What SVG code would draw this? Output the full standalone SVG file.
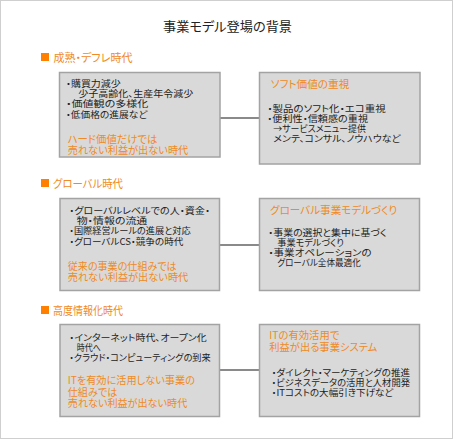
<svg xmlns="http://www.w3.org/2000/svg" width="455" height="440" viewBox="0 0 455 440">
<style>
text{font-family:"Noto Sans CJK JP","Noto Sans",sans-serif;font-feature-settings:"palt";}
.t{font-size:13px;fill:#222;}
.h{font-size:11px;fill:#f08a24;}
.b{font-size:9px;fill:#222;}
.o{font-size:10.5px;fill:#f08a24;}
.box{fill:#d9d9d9;stroke:#a3a3a3;stroke-width:1.5;}
.sq{fill:#ff8000;}
.con line{stroke:#8a8a8a;stroke-width:2;}
</style>
<rect x="0.5" y="0.5" width="452" height="438" fill="#fff" stroke="#cfcfcf"/>
<text class="t" x="163" y="31" textLength="129" lengthAdjust="spacingAndGlyphs">事業モデル登場の背景</text>

<g id="header1"><rect class="sq" x="41" y="53" width="8" height="8"/><text class="h" x="53.5" y="61.5" textLength="79" lengthAdjust="spacingAndGlyphs">成熟・デフレ時代</text></g>
<g id="header2"><rect class="sq" x="41" y="179" width="8" height="8"/><text class="h" x="53" y="187.5" textLength="70" lengthAdjust="spacingAndGlyphs">グローバル時代</text></g>
<g id="header3"><rect class="sq" x="41" y="306" width="8" height="8"/><text class="h" x="53" y="314.5" textLength="70" lengthAdjust="spacingAndGlyphs">高度情報化時代</text></g>

<g class="con" id="connectors">
<line x1="220" y1="118" x2="259" y2="118"/>
<line x1="219" y1="245" x2="259" y2="245"/>
<line x1="219" y1="370" x2="259" y2="370"/>
</g>

<g id="box1">
<rect class="box" x="59.5" y="72.5" width="160.5" height="84.5"/>
<text class="b" x="66" y="86.8" textLength="54.7" lengthAdjust="spacingAndGlyphs">・購買力減少</text>
<text class="b" x="78.3" y="97" textLength="115" lengthAdjust="spacingAndGlyphs">少子高齢化、生産年令減少</text>
<text class="b" x="66" y="107.2" textLength="82.3" lengthAdjust="spacingAndGlyphs">・価値観の多様化</text>
<text class="b" x="66" y="117.6" textLength="81.3" lengthAdjust="spacingAndGlyphs">・低価格の進展など</text>
<text class="o" x="67.7" y="142.5" textLength="89.6" lengthAdjust="spacingAndGlyphs">ハード価値だけでは</text>
<text class="o" x="67.7" y="153.5" textLength="120.6" lengthAdjust="spacingAndGlyphs">売れない利益が出ない時代</text>
</g>

<g id="box2">
<rect class="box" x="259.5" y="72.5" width="160.5" height="91.5"/>
<text class="o" x="270.7" y="87.5" textLength="78.6" lengthAdjust="spacingAndGlyphs">ソフト価値の重視</text>
<text class="b" x="267.3" y="111.7" textLength="118.4" lengthAdjust="spacingAndGlyphs">・製品のソフト化・エコ重視</text>
<text class="b" x="267.3" y="121.9" textLength="100.7" lengthAdjust="spacingAndGlyphs">・便利性・信頼感の重視</text>
<text class="b" x="273.3" y="132.1" textLength="92.7" lengthAdjust="spacingAndGlyphs">→サービスメニュー提供</text>
<text class="b" x="273.3" y="142.3" textLength="127.4" lengthAdjust="spacingAndGlyphs">メンテ、コンサル、ノウハウなど</text>
</g>

<g id="box3">
<rect class="box" x="60" y="198.5" width="159.5" height="92"/>
<text class="b" x="69.3" y="214" textLength="140.7" lengthAdjust="spacingAndGlyphs">・グローバルレベルでの人・資金・</text>
<text class="b" x="76.7" y="224.2" textLength="70.6" lengthAdjust="spacingAndGlyphs">物・情報の流通</text>
<text class="b" x="69.3" y="234.4" textLength="121.4" lengthAdjust="spacingAndGlyphs">・国際経営ルールの進展と対応</text>
<text class="b" x="69.3" y="244.6" textLength="114" lengthAdjust="spacingAndGlyphs">・グローバルCS・競争の時代</text>
<text class="o" x="67.7" y="269.5" textLength="109" lengthAdjust="spacingAndGlyphs">従来の事業の仕組みでは</text>
<text class="o" x="67.7" y="280.7" textLength="120.6" lengthAdjust="spacingAndGlyphs">売れない利益が出ない時代</text>
</g>

<g id="box4">
<rect class="box" x="259.5" y="198.5" width="160" height="92"/>
<text class="o" x="270" y="214.3" textLength="127.3" lengthAdjust="spacingAndGlyphs">グローバル事業モデルづくり</text>
<text class="b" x="268.3" y="235.7" textLength="118.4" lengthAdjust="spacingAndGlyphs">・事業の選択と集中に基づく</text>
<text class="b" x="277.3" y="245.9" textLength="66.7" lengthAdjust="spacingAndGlyphs">事業モデルづくり</text>
<text class="b" x="268.3" y="256.1" textLength="103.4" lengthAdjust="spacingAndGlyphs">・事業オペレーションの</text>
<text class="b" x="277.3" y="266.3" textLength="83.4" lengthAdjust="spacingAndGlyphs">グローバル全体最適化</text>
</g>

<g id="box5">
<rect class="box" x="60" y="324.5" width="159.5" height="92"/>
<text class="b" x="69.3" y="340.7" textLength="137.4" lengthAdjust="spacingAndGlyphs">・インターネット時代、オープン化</text>
<text class="b" x="76.7" y="350.9" textLength="24" lengthAdjust="spacingAndGlyphs">時代へ</text>
<text class="b" x="69.3" y="361.1" textLength="141.4" lengthAdjust="spacingAndGlyphs">・クラウド・コンピューティングの到来</text>
<text class="o" x="67.7" y="384.3" textLength="127.3" lengthAdjust="spacingAndGlyphs">ITを有効に活用しない事業の</text>
<text class="o" x="67.7" y="395.6" textLength="49.6" lengthAdjust="spacingAndGlyphs">仕組みでは</text>
<text class="o" x="67.7" y="407" textLength="119.6" lengthAdjust="spacingAndGlyphs">売れない利益が出ない時代</text>
</g>

<g id="box6">
<rect class="box" x="259.5" y="324.5" width="160" height="92"/>
<text class="o" x="269.3" y="339.3" textLength="70" lengthAdjust="spacingAndGlyphs">ITの有効活用で</text>
<text class="o" x="269.3" y="350.7" textLength="108" lengthAdjust="spacingAndGlyphs">利益が出る事業システム</text>
<text class="b" x="271.7" y="375.6" textLength="138.3" lengthAdjust="spacingAndGlyphs">・ダイレクト・マーケティングの推進</text>
<text class="b" x="271.7" y="385.8" textLength="138.3" lengthAdjust="spacingAndGlyphs">・ビジネスデータの活用と人材開発</text>
<text class="b" x="271.7" y="396" textLength="121.6" lengthAdjust="spacingAndGlyphs">・ITコストの大幅引き下げなど</text>
</g>
</svg>
